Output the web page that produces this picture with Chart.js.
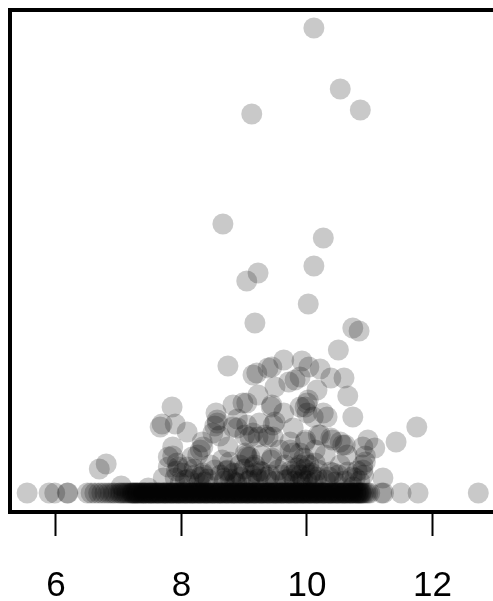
<!DOCTYPE html>
<html>
<head>
<meta charset="utf-8">
<style>
  html, body { margin: 0; padding: 0; background: #fff; overflow: hidden; }
  canvas { display: block; }
</style>
<script src="https://cdn.jsdelivr.net/npm/chart.js@4"></script>
</head>
<body>
<canvas id="scatter-chart" width="500" height="601"></canvas>
<script>
const xTicks = [6, 8, 10, 12];

// points lying on the floor of the plot (y = 0)
const floorX = [
  5.54, 5.89, 5.98, 6.18, 6.19, 6.50, 6.56, 6.62, 6.68, 6.73, 6.78, 6.83, 6.87,
  6.91, 6.94, 6.99, 7.02, 7.04, 7.07, 7.09, 7.12, 7.14, 7.17, 7.19, 7.21, 7.23, 7.25, 7.27,
  7.29, 7.31, 7.33, 7.36, 7.38, 7.40, 7.42, 7.44, 7.47, 7.49, 7.51, 7.53, 7.55, 7.58, 7.60, 7.62,
  7.64, 7.66, 7.69, 7.71, 7.73, 7.75, 7.77, 7.80, 7.82, 7.84, 7.86, 7.88, 7.91, 7.93, 7.95, 7.97,
  7.99, 8.02, 8.04, 8.06, 8.08, 8.10, 8.13, 8.15, 8.17, 8.19, 8.21, 8.24, 8.26, 8.28, 8.30, 8.32,
  8.35, 8.37, 8.39, 8.41, 8.43, 8.46, 8.48, 8.50, 8.52, 8.54, 8.57, 8.59, 8.61, 8.63, 8.65, 8.68,
  8.70, 8.72, 8.74, 8.76, 8.79, 8.81, 8.83, 8.85, 8.87, 8.90, 8.92, 8.94, 8.96, 8.98, 9.01, 9.03,
  9.05, 9.07, 9.09, 9.12, 9.14, 9.16, 9.18, 9.20, 9.23, 9.25, 9.27, 9.29, 9.31, 9.34, 9.36, 9.38,
  9.40, 9.42, 9.45, 9.47, 9.49, 9.51, 9.53, 9.56, 9.58, 9.60, 9.62, 9.64, 9.67, 9.69, 9.71, 9.73,
  9.75, 9.78, 9.80, 9.82, 9.84, 9.86, 9.89, 9.91, 9.93, 9.95, 9.97, 10.00, 10.02, 10.04, 10.06, 10.08,
  10.11, 10.13, 10.15, 10.17, 10.19, 10.22, 10.24, 10.26, 10.28, 10.30, 10.33, 10.35, 10.37, 10.39, 10.41, 10.44,
  10.46, 10.48, 10.50, 10.52, 10.55, 10.57, 10.59, 10.61, 10.63, 10.66, 10.68, 10.70, 10.72, 10.74, 10.77, 10.79,
  10.81, 10.83, 10.85, 10.87, 10.89, 10.91, 10.94, 10.97, 11.00, 11.19, 11.22, 11.50, 11.77, 12.73,
  7.22, 7.26, 7.30, 7.35, 7.39, 7.43, 7.48, 7.52, 7.56, 7.61, 7.65, 7.70, 7.74, 7.78, 7.83, 7.87,
  7.92, 7.96, 8.00, 8.05, 8.09, 8.14, 8.18, 8.22, 8.27, 8.31, 8.36, 8.40, 8.44, 8.49, 8.53, 8.58,
  8.62, 8.66, 8.71, 8.75, 8.80, 8.84, 8.88, 8.93, 8.97, 9.02, 9.06, 9.10, 9.15, 9.19, 9.24, 9.28,
  9.32, 9.37, 9.41, 9.46, 9.50, 9.54, 9.59, 9.63, 9.68, 9.72, 9.76, 9.81, 9.85, 9.90, 9.94, 9.98,
  10.03, 10.07, 10.12, 10.16, 10.20, 10.25, 10.29, 10.34, 10.38, 10.42, 10.47, 10.51, 10.56, 10.60, 10.64, 10.69,
  10.73, 10.78, 10.82, 10.86
];

// points above the floor
const upperX = [
  10.11, 10.53, 10.85, 9.12, 8.66, 10.26, 10.11, 9.22, 9.04, 10.02, 9.17, 10.73, 10.83, 10.50, 8.74, 9.63,
  9.44, 9.38, 9.92, 10.03, 10.21, 10.38, 10.59, 10.65, 10.73, 11.42, 11.75, 11.21, 10.00, 10.02, 9.97, 9.89,
  10.00, 10.10, 10.32, 10.26, 10.16, 9.89, 9.71, 9.81, 9.49, 9.20, 9.14, 9.22, 9.44, 9.63, 9.49, 9.46,
  9.24, 9.14, 9.33, 9.46, 9.78, 9.73, 9.97, 10.18, 10.40, 10.53, 10.61, 10.97, 11.08, 10.89, 9.78, 9.89,
  10.64, 10.93, 9.44, 9.04, 8.82, 7.85, 7.69, 7.66, 7.90, 8.09, 8.55, 8.57, 8.57, 8.53, 8.50, 8.61,
  8.89, 8.89, 9.09, 9.38, 8.33, 8.30, 7.86, 8.74, 9.04, 9.05, 9.02, 7.86, 8.26, 7.79, 7.79, 7.93,
  7.95, 8.34, 8.17, 6.80, 6.69, 7.04, 7.47, 7.71, 8.34, 8.30, 8.09, 8.73, 8.90, 8.82, 9.04, 8.98,
  10.89, 10.93, 10.89, 10.57, 10.38, 10.21, 9.98, 9.73, 9.43, 9.98, 9.95, 10.03, 9.83, 10.13, 10.50, 10.29,
  9.09, 9.19, 9.41, 10.73, 9.90, 10.05, 9.43, 9.01, 9.22, 8.46, 8.53, 8.65, 8.77, 8.93, 9.17, 9.28,
  9.54, 9.65, 9.76, 9.89, 10.18, 10.37, 10.53, 10.65, 10.77, 8.22, 8.06, 7.90, 8.69, 9.09, 9.38, 9.65,
  9.89, 10.13, 10.45, 8.37, 8.85, 9.57, 9.28, 10.13, 10.29,
  8.62, 8.68, 8.72, 8.78, 8.83, 8.88, 8.95, 9.00, 9.06, 9.12, 9.15, 9.22, 9.25,
  9.70, 9.74, 9.80, 9.85, 9.93, 9.96, 10.00, 10.07, 10.10, 10.16,
  10.72, 10.80, 10.84, 10.90, 8.02, 8.12, 8.20, 8.28, 8.35, 8.42, 7.92, 7.98,
  9.35, 9.50, 9.60, 10.35, 10.42, 10.60
];
const upperY = [
  465, 404, 383, 379, 269, 255, 227, 220, 212, 189, 170, 165, 162, 143, 127, 133,
  126, 125, 132, 126, 124, 115, 115, 97, 76, 51, 66, 15, 90, 93, 86, 86,
  80, 76, 76, 80, 103, 116, 111, 113, 106, 120, 118, 98, 88, 80, 71, 68,
  70, 60, 58, 56, 65, 51, 51, 58, 53, 51, 48, 53, 45, 46, 40, 40,
  38, 37, 35, 90, 88, 86, 69, 66, 69, 61, 80, 73, 70, 67, 60, 57,
  74, 65, 56, 56, 51, 43, 46, 46, 38, 36, 40, 37, 38, 36, 26, 30,
  26, 46, 36, 29, 24, 7, 5, 15, 20, 16, 26, 23, 20, 66, 68, 90,
  28, 31, 23, 48, 55, 58, 53, 43, 33, 31, 35, 28, 25, 30, 18, 13,
  36, 20, 18, 6, 18, 18, 86, 58, 56, 28, 23, 33, 31, 28, 28, 21,
  23, 28, 18, 28, 23, 21, 28, 21, 15, 18, 13, 15, 15, 13, 13, 13,
  11, 13, 11, 11, 11, 43, 38, 43, 38,
  18, 12, 22, 14, 20, 10, 16, 24, 12, 18, 26, 14, 22,
  14, 22, 12, 20, 14, 24, 12, 20, 10, 16,
  16, 22, 12, 18, 20, 14, 24, 10, 18, 14, 22, 10,
  16, 12, 18, 16, 20, 12
];

const points = floorX.map(x => ({ x: x, y: 0 }))
  .concat(upperX.map((x, i) => ({ x: x, y: upperY[i] })));

// R style box around the plot, the right side falls outside the window
const framePlugin = {
  id: 'frame',
  afterDatasetsDraw(chart) {
    const { ctx, chartArea } = chart;
    ctx.save();
    ctx.strokeStyle = '#000';
    ctx.lineWidth = 4;
    ctx.strokeRect(chartArea.left, chartArea.top, chartArea.right - chartArea.left, chartArea.bottom - chartArea.top);
    ctx.restore();
  }
};

new Chart(document.getElementById('scatter-chart'), {
  type: 'scatter',
  data: {
    datasets: [{
      data: points,
      backgroundColor: 'rgba(0, 0, 0, 0.21)',
      borderWidth: 0,
      pointRadius: 10.5
    }]
  },
  options: {
    responsive: false,
    animation: false,
    layout: { autoPadding: false, padding: { left: 10, top: 10, right: 0, bottom: 0 } },
    plugins: {
      legend: { display: false },
      tooltip: { enabled: false }
    },
    scales: {
      x: {
        type: 'linear',
        min: 5.267,
        max: 13.076,
        afterBuildTicks: axis => { axis.ticks = xTicks.map(v => ({ value: v })); },
        afterFit: axis => { axis.height = 89; },
        border: { display: false },
        grid: {
          drawOnChartArea: false,
          drawTicks: true,
          tickLength: 24,
          tickWidth: 2,
          tickColor: '#000'
        },
        ticks: {
          autoSkip: false,
          maxRotation: 0,
          padding: 29,
          color: '#000',
          font: { family: '"Liberation Sans", Arial, sans-serif', size: 35 }
        }
      },
      y: {
        display: false,
        min: -19,
        max: 483
      }
    }
  },
  plugins: [framePlugin]
});
</script>
</body>
</html>
